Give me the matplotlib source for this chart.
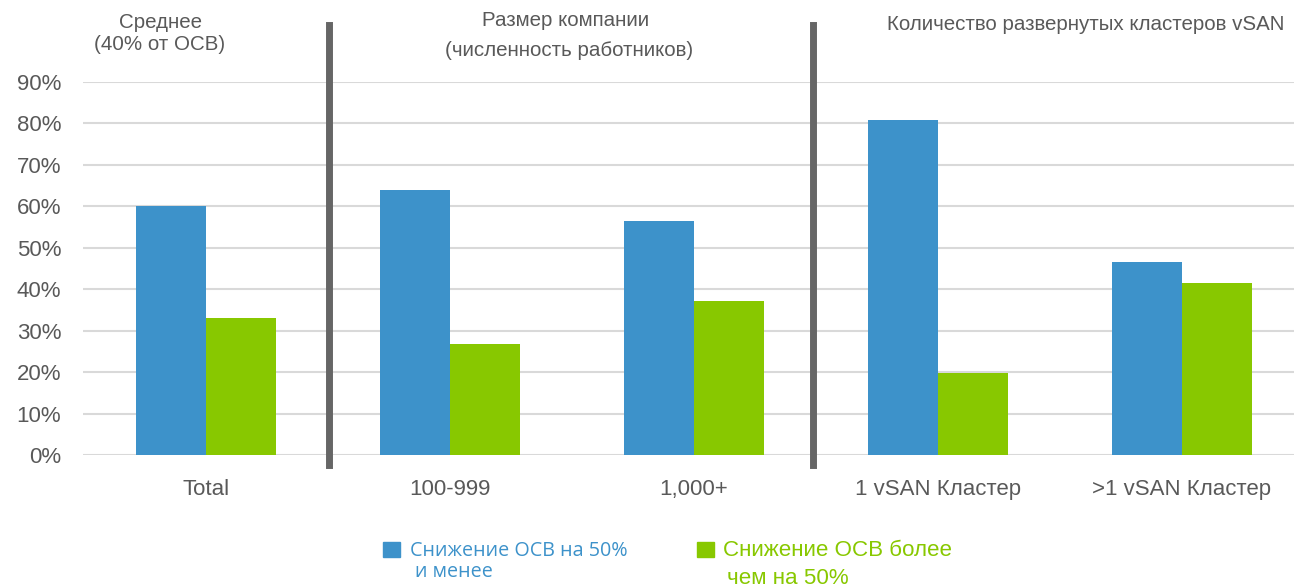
import numpy as np
import matplotlib.pyplot as plt
from matplotlib.patches import Rectangle

categories = ['Total', '100-999', '1,000+', '1 vSAN Кластер', '>1 vSAN Кластер']
le_50 = [60.1, 64.0, 56.5, 80.9, 46.6]    # Снижение ОСВ на 50% и менее
gt_50 = [33.1, 26.8, 37.2, 19.8, 41.5]    # Снижение ОСВ более чем на 50%
yticks = [0, 10, 20, 30, 40, 50, 60, 70, 80, 90]
separators = [0.505, 2.49]

blue = '#3d92ca'
green = '#88c800'
gray = '#595959'

plt.rcParams['font.family'] = ['Liberation Sans', 'DejaVu Sans']

fig = plt.figure(figsize=(12.94, 5.87), dpi=100)
ax = fig.add_axes([0.064, 0.2249, 0.936, 0.6354])

x = np.arange(len(categories))
w = 0.287
ax.bar(x - w / 2, le_50, width=w, color=blue, zorder=3)
ax.bar(x + w / 2, gt_50, width=w, color=green, zorder=3)

ax.set_ylim(0, 90)
ax.set_xlim(-0.504, 4.459)
ax.set_yticks(yticks)
ax.set_yticklabels([f'{t}%' for t in yticks])
ax.set_xticks(x)
ax.set_xticklabels(categories)
ax.tick_params(axis='y', length=0, pad=15.5, labelsize=16, labelcolor=gray)
ax.tick_params(axis='x', length=0, pad=17, labelsize=16, labelcolor=gray)
ax.yaxis.grid(True, color='#d9d9d9', linewidth=1.5, zorder=0)
ax.set_axisbelow(True)
for s in ax.spines.values():
    s.set_visible(False)

# vertical separators between groups
for sx in separators:
    ax.plot([sx, sx], [-0.027, 1.153], color='#666666', linewidth=5,
            transform=ax.get_xaxis_transform(), clip_on=False, zorder=4)

# group headers
hs = 14.75
fig.text(161 / 1294, 1 - 22 / 587, 'Среднее', ha='center', va='center', fontsize=hs, color=gray)
fig.text(160 / 1294, 1 - 44 / 587, '(40% от ОСВ)', ha='center', va='center', fontsize=hs, color=gray)
fig.text(566 / 1294, 1 - 21 / 587, 'Размер компании', ha='center', va='center', fontsize=hs, color=gray)
fig.text(569 / 1294, 1 - 50 / 587, '(численность работников)', ha='center', va='center', fontsize=hs, color=gray)
fig.text(1086 / 1294, 1 - 25 / 587, 'Количество развернутых кластеров vSAN', ha='center', va='center',
         fontsize=hs, color=gray)

# legend
lfont = ['Open Sans', 'DejaVu Sans']
fig.add_artist(Rectangle((383 / 1294, 1 - 557 / 587), 17 / 1294, 15 / 587,
                         transform=fig.transFigure, color=blue))
fig.text(410 / 1294, 1 - 551 / 587, 'Снижение ОСВ на 50%', ha='left', va='center',
         fontsize=14.2, color=blue, family=lfont)
fig.text(415 / 1294, 1 - 572 / 587, 'и менее', ha='left', va='center',
         fontsize=14.2, color=blue, family=lfont)
fig.add_artist(Rectangle((697 / 1294, 1 - 557 / 587), 17 / 1294, 15 / 587,
                         transform=fig.transFigure, color=green))
fig.text(723 / 1294, 1 - 551 / 587, 'Снижение ОСВ более', ha='left', va='center',
         fontsize=16.1, color=green)
fig.text(727 / 1294, 1 - 578 / 587, 'чем на 50%', ha='left', va='center',
         fontsize=16.1, color=green)

fig.savefig('out.png', dpi=100, facecolor='white')
